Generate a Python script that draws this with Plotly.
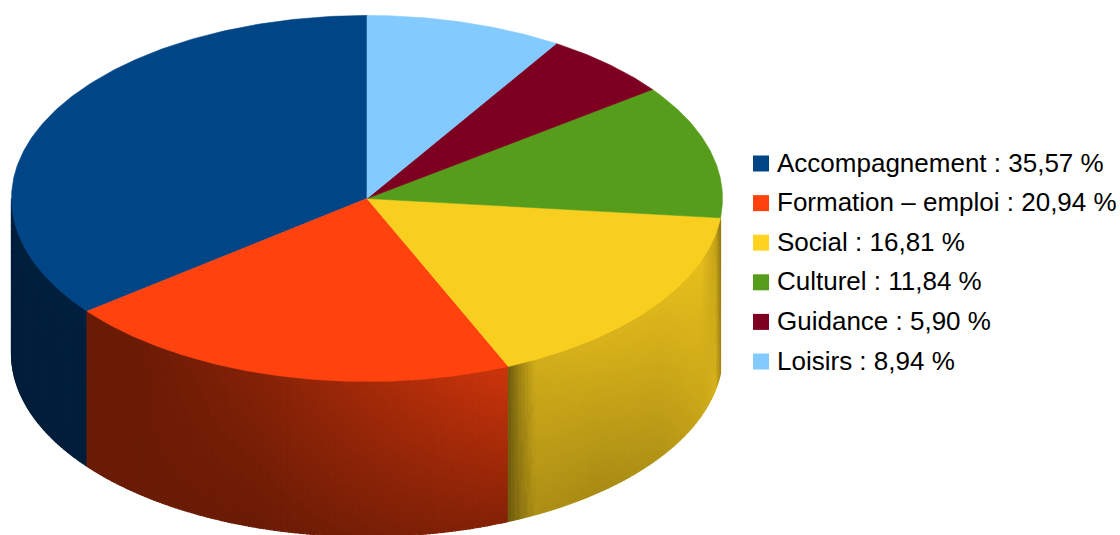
import numpy as np
import plotly.graph_objects as go

categories = ["Accompagnement", "Formation – emploi", "Social", "Culturel", "Guidance", "Loisirs"]
percent_values = [35.57, 20.94, 16.81, 11.84, 5.90, 8.94]
value_labels = ["35,57 %", "20,94 %", "16,81 %", "11,84 %", "5,90 %", "8,94 %"]
colors = ["#004586", "#ff420e", "#f8cf1e", "#579d1c", "#7e0021", "#83caff"]
legend_colors = ["#004586", "#ff420e", "#ffd320", "#579d1c", "#7e0021", "#83caff"]

CX, CY, RX, RY, DEPTH = 367.0, 198.5, 355.5, 183.0, 155.0

# side-wall light: x position -> brightness at the top / bottom of the wall
shade_x = {
    0: [0, 1120],
    1: [88, 135, 260, 400, 505, 512],
    2: [508, 521, 536, 600, 660, 700, 715, 723],
}
shade_top = {
    0: [0.46, 0.46],
    1: [0.42, 0.42, 0.52, 0.68, 0.80, 0.80],
    2: [0.42, 0.64, 0.82, 0.85, 0.87, 0.90, 0.78, 0.45],
}
shade_bot = {
    0: [0.44, 0.44],
    1: [0.42, 0.42, 0.42, 0.48, 0.52, 0.52],
    2: [0.42, 0.56, 0.68, 0.66, 0.70, 0.78, 0.84, 0.55],
}


def pt(a, drop=0.0):
    r = np.radians(a)
    return CX + RX * np.cos(r), CY - RY * np.sin(r) + drop


def shaded(hex_color, f):
    rgb = [int(hex_color[i:i + 2], 16) for i in (1, 3, 5)]
    return "rgb(%d,%d,%d)" % tuple(int(round(c * f)) for c in rgb)


fig = go.Figure()
edges = 90 + 3.6 * np.concatenate([[0], np.cumsum(percent_values)])

# side walls: only the three slices that face the viewer
N_BANDS = 24
for i in range(3):
    a0 = max(edges[i], 180.0)
    a1 = min(edges[i + 1], 360.0)
    n = max(2, int((a1 - a0) / 0.6))
    angles = np.linspace(a0, a1, n + 1)
    groups = {}
    for k in range(n):
        x0, _ = pt(angles[k])
        x1, _ = pt(angles[k + 1])
        xm = 0.5 * (x0 + x1)
        t = np.interp(xm, shade_x[i], shade_top[i])
        b = np.interp(xm, shade_x[i], shade_bot[i])
        for j in range(N_BANDS):
            v0, v1 = j / N_BANDS, (j + 1) / N_BANDS
            f = t + (b - t) * (v0 + v1) / 2
            f = round(f * 200) / 200
            xa, ya = pt(angles[k], DEPTH * v0)
            xb, yb = pt(angles[k + 1], DEPTH * v0)
            xc, yc = pt(angles[k + 1], DEPTH * v1)
            xd, yd = pt(angles[k], DEPTH * v1)
            gx, gy = groups.setdefault(f, ([], []))
            gx += [xa, xb, xc, xd, xa, None]
            gy += [ya, yb, yc, yd, ya, None]
    for f, (gx, gy) in groups.items():
        col = shaded(legend_colors[i], f)
        fig.add_trace(go.Scatter(x=gx, y=gy, mode="lines", fill="toself", fillcolor=col,
                                 line=dict(color=col, width=1.2), hoverinfo="skip", showlegend=False))

# top face
for i, name in enumerate(categories):
    aa = np.linspace(edges[i], edges[i + 1], max(3, int(edges[i + 1] - edges[i]) * 2))
    px, py = pt(aa)
    xs = [CX] + list(px) + [CX]
    ys = [CY] + list(py) + [CY]
    fig.add_trace(go.Scatter(x=xs, y=ys, mode="lines", fill="toself", fillcolor=colors[i],
                             line=dict(color=colors[i], width=0.6), name=name,
                             text=f"{name} : {value_labels[i]}", hoverinfo="text", showlegend=False))

# legend
leg_y = [163 + 39.6 * k for k in range(len(categories))]
fig.add_trace(go.Scatter(x=[761] * len(categories), y=[v + 0.5 for v in leg_y], mode="markers",
                         marker=dict(symbol="square", size=16, color=legend_colors, line=dict(width=0)),
                         hoverinfo="skip", showlegend=False))
fig.add_trace(go.Scatter(x=[777] * len(categories), y=[v + 2 for v in leg_y], mode="text",
                         text=[f"{c} : {v}" for c, v in zip(categories, value_labels)],
                         textposition="middle right",
                         textfont=dict(family="Liberation Sans", size=26, color="#000000"),
                         hoverinfo="skip", showlegend=False))

fig.update_layout(
    width=1120, height=535, margin=dict(l=0, r=0, t=0, b=0),
    paper_bgcolor="white", plot_bgcolor="white", showlegend=False,
    xaxis=dict(range=[0, 1120], visible=False, fixedrange=True),
    yaxis=dict(range=[535, 0], visible=False, fixedrange=True),
)
fig.write_html("out.html", config=dict(displayModeBar=False),
               post_script="document.body.style.margin='0';document.body.style.overflow='hidden';")
